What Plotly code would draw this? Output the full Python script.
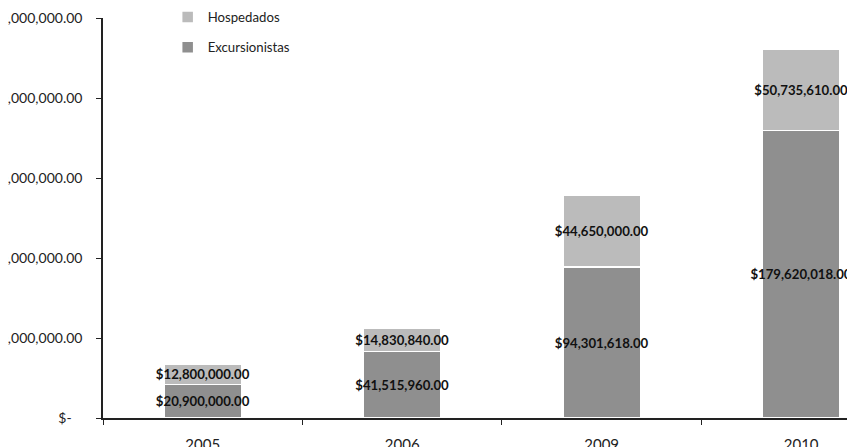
import plotly.graph_objects as go

years = ["2005", "2006", "2009", "2010"]
excursionistas = [20900000.00, 41515960.00, 94301618.00, 179620018.00]
hospedados = [12800000.00, 14830840.00, 44650000.00, 50735610.00]
y_ticks = [0, 50000000, 100000000, 150000000, 200000000, 250000000]
y_tick_text = ["$-\u00a0\u00a0\u00a0", "$50,000,000.00", "$100,000,000.00", "$150,000,000.00",
               "$200,000,000.00", "$250,000,000.00"]

def money(v):
    return "<b>$" + f"{v:,.2f}" + "</b>"

bar_font = dict(family="Lato", size=13.2, color="#111111")

fig = go.Figure()
fig.add_trace(go.Bar(
    x=years, y=excursionistas, name="Excursionistas",
    marker=dict(color="#8f8f8f", line=dict(color="white", width=1.5)),
    text=[money(v) for v in excursionistas], textposition="inside",
    insidetextanchor="middle", textangle=0, width=0.39,
    constraintext="none", cliponaxis=False,
    textfont=bar_font, legendgroup="e", legendrank=2,
))
fig.add_trace(go.Bar(
    x=years, y=hospedados, name="Hospedados",
    marker=dict(color="#bbbbbb", line=dict(color="white", width=1.5)),
    text=[money(v) for v in hospedados], textposition="inside",
    insidetextanchor="middle", textangle=0, width=0.39,
    constraintext="none", cliponaxis=False,
    textfont=bar_font, legendgroup="h", legendrank=1,
))

W, H = 847, 439
fig.update_layout(
    barmode="stack",
    width=W, height=H,
    margin=dict(l=95, r=0, t=0, b=29, autoexpand=False),
    plot_bgcolor="white", paper_bgcolor="white",
    font=dict(family="Lato", size=13, color="#222222"),
    legend=dict(x=0.086, y=1.0146, xanchor="left", yanchor="top",
                traceorder="grouped", tracegroupgap=10,
                font=dict(family="Lato", size=13.2, color="#222222"),
                itemwidth=30, bgcolor="rgba(0,0,0,0)"),
    xaxis=dict(type="category", range=[-0.5, 3.27], showline=True,
               linecolor="#222222", linewidth=1.5, ticks="outside",
               tickson="boundaries", ticklen=5, tickcolor="#222222",
               showgrid=False, ticklabelstandoff=12, automargin=False,
               tickfont=dict(family="Lato", size=15, color="#222222")),
    yaxis=dict(range=[0, 250000000], domain=[0, 400 / 410],
               tickvals=y_ticks, ticktext=y_tick_text,
               showline=True, linecolor="#222222", linewidth=1.5,
               ticks="outside", ticklen=5, tickcolor="#222222",
               showgrid=False, zeroline=False, ticklabelstandoff=11,
               automargin=False,
               tickfont=dict(family="Lato", size=14, color="#222222")),
)

fig.write_html("out.html")
